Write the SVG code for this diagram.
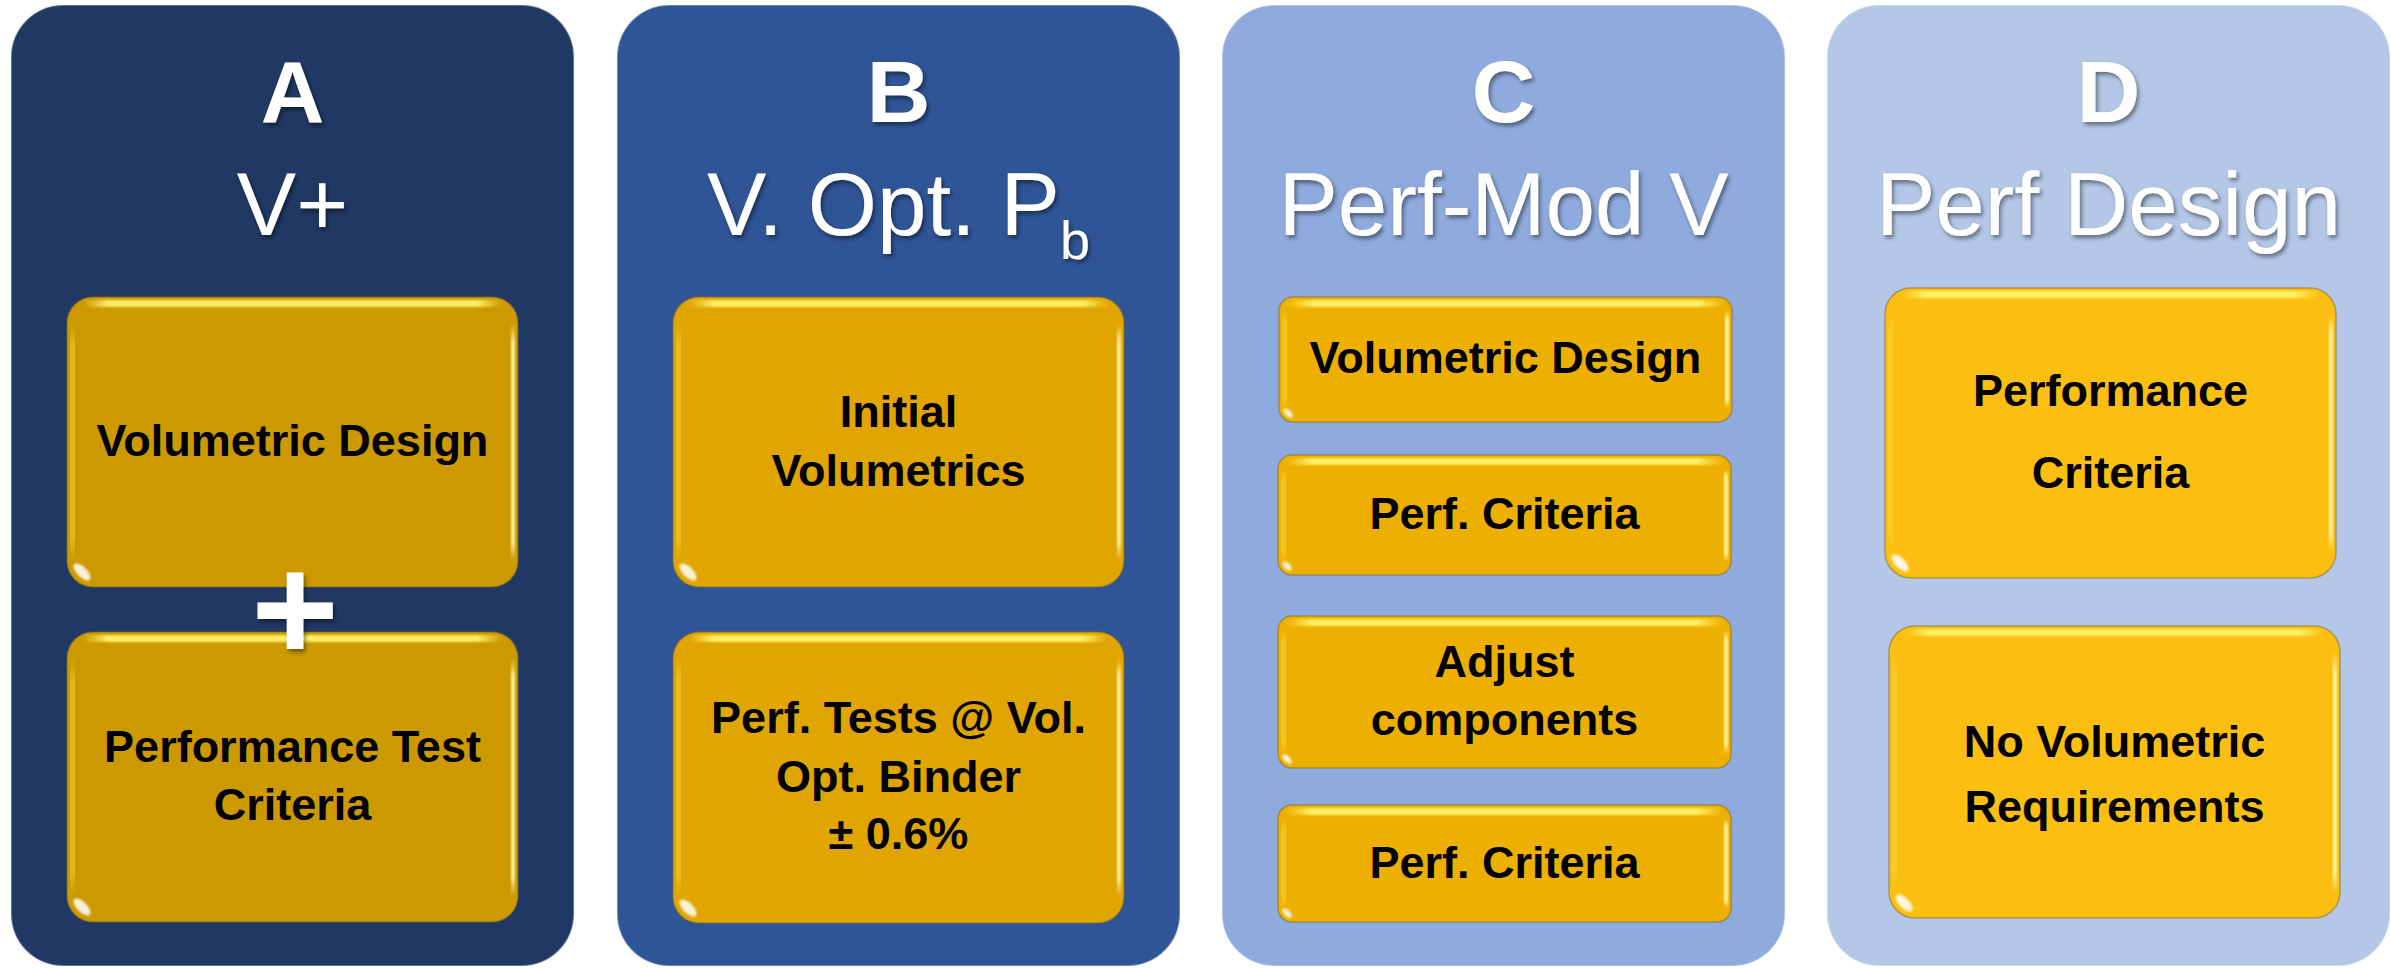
<svg xmlns="http://www.w3.org/2000/svg" width="2391" height="968" viewBox="0 0 2391 968">
  <defs>
    <style>
      .panel{stroke:#ffffff;stroke-opacity:.3;stroke-width:2}
      .pa{fill:#203864}
      .pb{fill:#2F5597}
      .pc{fill:#8FAADC}
      .pd{fill:#B4C7E7}
      .ttl{font-family:"Liberation Sans",Arial,sans-serif;fill:#ffffff;text-anchor:middle;filter:url(#ts)}
      .big{font-size:88px;font-weight:bold}
      .sub{font-size:89px}
      .lbl{font-family:"Liberation Sans",Arial,sans-serif;font-weight:bold;font-size:45px;fill:#000000;text-anchor:middle}
      .box{stroke:#7d6a2a;stroke-opacity:.5;stroke-width:1.5}
      .ba{fill:#CC9900}
      .bb{fill:#E0A500}
      .bc{fill:#EDB000}
      .bd{fill:#FCBF11}
      .gt{fill:url(#gTop);filter:url(#soft)}
      .gs{fill:url(#gSide);filter:url(#soft)}
      .gl{fill:url(#gLeft)}
      .gw{fill:#ffffff;opacity:.85;filter:url(#soft)}
    </style>
    <filter id="ts" x="-10%" y="-10%" width="130%" height="140%">
      <feDropShadow dx="2" dy="3" stdDeviation="2" flood-color="#000000" flood-opacity="0.45"/>
    </filter>
    <filter id="soft" x="-20%" y="-20%" width="140%" height="140%">
      <feGaussianBlur stdDeviation="1.2"/>
    </filter>
    <linearGradient id="gTop" x1="0" y1="0" x2="1" y2="0">
      <stop offset="0" stop-color="#FFF26A" stop-opacity="0"/>
      <stop offset="0.06" stop-color="#FFF26A" stop-opacity="0.95"/>
      <stop offset="0.94" stop-color="#FFF26A" stop-opacity="0.95"/>
      <stop offset="1" stop-color="#FFF26A" stop-opacity="0"/>
    </linearGradient>
    <linearGradient id="gSide" x1="0" y1="0" x2="0" y2="1">
      <stop offset="0" stop-color="#FFF8B0" stop-opacity="0"/>
      <stop offset="0.08" stop-color="#FFF8B0" stop-opacity="0.9"/>
      <stop offset="0.92" stop-color="#FFF8B0" stop-opacity="0.9"/>
      <stop offset="1" stop-color="#FFF8B0" stop-opacity="0"/>
    </linearGradient>
    <linearGradient id="gLeft" x1="0" y1="0" x2="0" y2="1">
      <stop offset="0" stop-color="#FFD84A" stop-opacity="0"/>
      <stop offset="0.1" stop-color="#FFD84A" stop-opacity="0.45"/>
      <stop offset="0.9" stop-color="#FFD84A" stop-opacity="0.45"/>
      <stop offset="1" stop-color="#FFD84A" stop-opacity="0"/>
    </linearGradient>
  </defs>

  <!-- Column A -->
  <g id="col-a">
    <rect class="panel pa" x="11" y="5" width="563" height="961" rx="52"/>
    <text class="ttl big" x="292.5" y="122">A</text>
    <text class="ttl sub" x="292.5" y="235">V+</text>
    <g id="a-volumetric" transform="translate(67,297)">
      <rect class="box ba" width="451" height="290" rx="26"/>
      <rect class="gt" x="16" y="3" width="419" height="7" rx="3.5"/>
      <rect class="gs" x="444" y="26" width="4" height="238" rx="2"/>
      <rect class="gl" x="3" y="26" width="5" height="238" rx="2.5"/>
      <ellipse class="gw" cx="15" cy="275" rx="11" ry="5" transform="rotate(45 15 275)"/>
      <text class="lbl" x="225.5" y="159">Volumetric Design</text>
    </g>
    <g id="a-performance" transform="translate(67,632)">
      <rect class="box ba" width="451" height="290" rx="26"/>
      <rect class="gt" x="16" y="3" width="419" height="7" rx="3.5"/>
      <rect class="gs" x="444" y="26" width="4" height="238" rx="2"/>
      <rect class="gl" x="3" y="26" width="5" height="238" rx="2.5"/>
      <ellipse class="gw" cx="15" cy="275" rx="11" ry="5" transform="rotate(45 15 275)"/>
      <text class="lbl" x="225.5" y="130">Performance Test</text>
      <text class="lbl" x="225.5" y="188">Criteria</text>
    </g>
    <text id="a-plus" class="ttl" x="295" y="661" font-size="150" font-weight="bold">+</text>
  </g>

  <!-- Column B -->
  <g id="col-b">
    <rect class="panel pb" x="617" y="5" width="563" height="961" rx="52"/>
    <text class="ttl big" x="898.5" y="122">B</text>
    <text class="ttl sub" x="898.5" y="235">V. Opt. P<tspan font-size="54" dy="24">b</tspan></text>
    <g id="b-initial" transform="translate(673,297)">
      <rect class="box bb" width="451" height="290" rx="26"/>
      <rect class="gt" x="16" y="3" width="419" height="7" rx="3.5"/>
      <rect class="gs" x="444" y="26" width="4" height="238" rx="2"/>
      <rect class="gl" x="3" y="26" width="5" height="238" rx="2.5"/>
      <ellipse class="gw" cx="15" cy="275" rx="11" ry="5" transform="rotate(45 15 275)"/>
      <text class="lbl" x="225.5" y="130">Initial</text>
      <text class="lbl" x="225.5" y="189">Volumetrics</text>
    </g>
    <g id="b-tests" transform="translate(673,632)">
      <rect class="box bb" width="451" height="291" rx="26"/>
      <rect class="gt" x="16" y="3" width="419" height="7" rx="3.5"/>
      <rect class="gs" x="444" y="26" width="4" height="239" rx="2"/>
      <rect class="gl" x="3" y="26" width="5" height="239" rx="2.5"/>
      <ellipse class="gw" cx="15" cy="276" rx="11" ry="5" transform="rotate(45 15 276)"/>
      <text class="lbl" x="225.5" y="101">Perf. Tests @ Vol.</text>
      <text class="lbl" x="225.5" y="160">Opt. Binder</text>
      <text class="lbl" x="225.5" y="217">± 0.6%</text>
    </g>
  </g>

  <!-- Column C -->
  <g id="col-c">
    <rect class="panel pc" x="1222" y="5" width="563" height="961" rx="52"/>
    <text class="ttl big" x="1503.5" y="122">C</text>
    <text class="ttl sub" x="1503.5" y="235">Perf-Mod V</text>
    <g id="c-volumetric" transform="translate(1279,297)">
      <rect class="box bc" width="453" height="125" rx="14"/>
      <rect class="gt" x="8" y="3" width="437" height="7" rx="3.5"/>
      <rect class="gs" x="446" y="14" width="4" height="97" rx="2"/>
      <rect class="gl" x="3" y="14" width="5" height="97" rx="2.5"/>
      <ellipse class="gw" cx="9" cy="116" rx="6" ry="3" transform="rotate(45 9 116)"/>
      <text class="lbl" x="226.5" y="76">Volumetric Design</text>
    </g>
    <g id="c-criteria-1" transform="translate(1278,455)">
      <rect class="box bc" width="453" height="120" rx="14"/>
      <rect class="gt" x="8" y="3" width="437" height="7" rx="3.5"/>
      <rect class="gs" x="446" y="14" width="4" height="92" rx="2"/>
      <rect class="gl" x="3" y="14" width="5" height="92" rx="2.5"/>
      <ellipse class="gw" cx="9" cy="111" rx="6" ry="3" transform="rotate(45 9 111)"/>
      <text class="lbl" x="226.5" y="74">Perf. Criteria</text>
    </g>
    <g id="c-adjust" transform="translate(1278,616)">
      <rect class="box bc" width="453" height="152" rx="14"/>
      <rect class="gt" x="8" y="3" width="437" height="7" rx="3.5"/>
      <rect class="gs" x="446" y="14" width="4" height="124" rx="2"/>
      <rect class="gl" x="3" y="14" width="5" height="124" rx="2.5"/>
      <ellipse class="gw" cx="9" cy="143" rx="6" ry="3" transform="rotate(45 9 143)"/>
      <text class="lbl" x="226.5" y="61">Adjust</text>
      <text class="lbl" x="226.5" y="119">components</text>
    </g>
    <g id="c-criteria-2" transform="translate(1278,805)">
      <rect class="box bc" width="453" height="117" rx="14"/>
      <rect class="gt" x="8" y="3" width="437" height="7" rx="3.5"/>
      <rect class="gs" x="446" y="14" width="4" height="89" rx="2"/>
      <rect class="gl" x="3" y="14" width="5" height="89" rx="2.5"/>
      <ellipse class="gw" cx="9" cy="108" rx="6" ry="3" transform="rotate(45 9 108)"/>
      <text class="lbl" x="226.5" y="73">Perf. Criteria</text>
    </g>
  </g>

  <!-- Column D -->
  <g id="col-d">
    <rect class="panel pd" x="1827" y="5" width="563" height="961" rx="52"/>
    <text class="ttl big" x="2108.5" y="122">D</text>
    <text class="ttl sub" x="2108.5" y="235">Perf Design</text>
    <g id="d-criteria" transform="translate(1885,288)">
      <rect class="box bd" width="451" height="290" rx="26"/>
      <rect class="gt" x="16" y="3" width="419" height="7" rx="3.5"/>
      <rect class="gs" x="444" y="26" width="4" height="238" rx="2"/>
      <rect class="gl" x="3" y="26" width="5" height="238" rx="2.5"/>
      <ellipse class="gw" cx="15" cy="275" rx="11" ry="5" transform="rotate(45 15 275)"/>
      <text class="lbl" x="225.5" y="118">Performance</text>
      <text class="lbl" x="225.5" y="200">Criteria</text>
    </g>
    <g id="d-no-volumetric" transform="translate(1889,626)">
      <rect class="box bd" width="451" height="292" rx="26"/>
      <rect class="gt" x="16" y="3" width="419" height="7" rx="3.5"/>
      <rect class="gs" x="444" y="26" width="4" height="240" rx="2"/>
      <rect class="gl" x="3" y="26" width="5" height="240" rx="2.5"/>
      <ellipse class="gw" cx="15" cy="277" rx="11" ry="5" transform="rotate(45 15 277)"/>
      <text class="lbl" x="225.5" y="131">No Volumetric</text>
      <text class="lbl" x="225.5" y="196">Requirements</text>
    </g>
  </g>
</svg>
